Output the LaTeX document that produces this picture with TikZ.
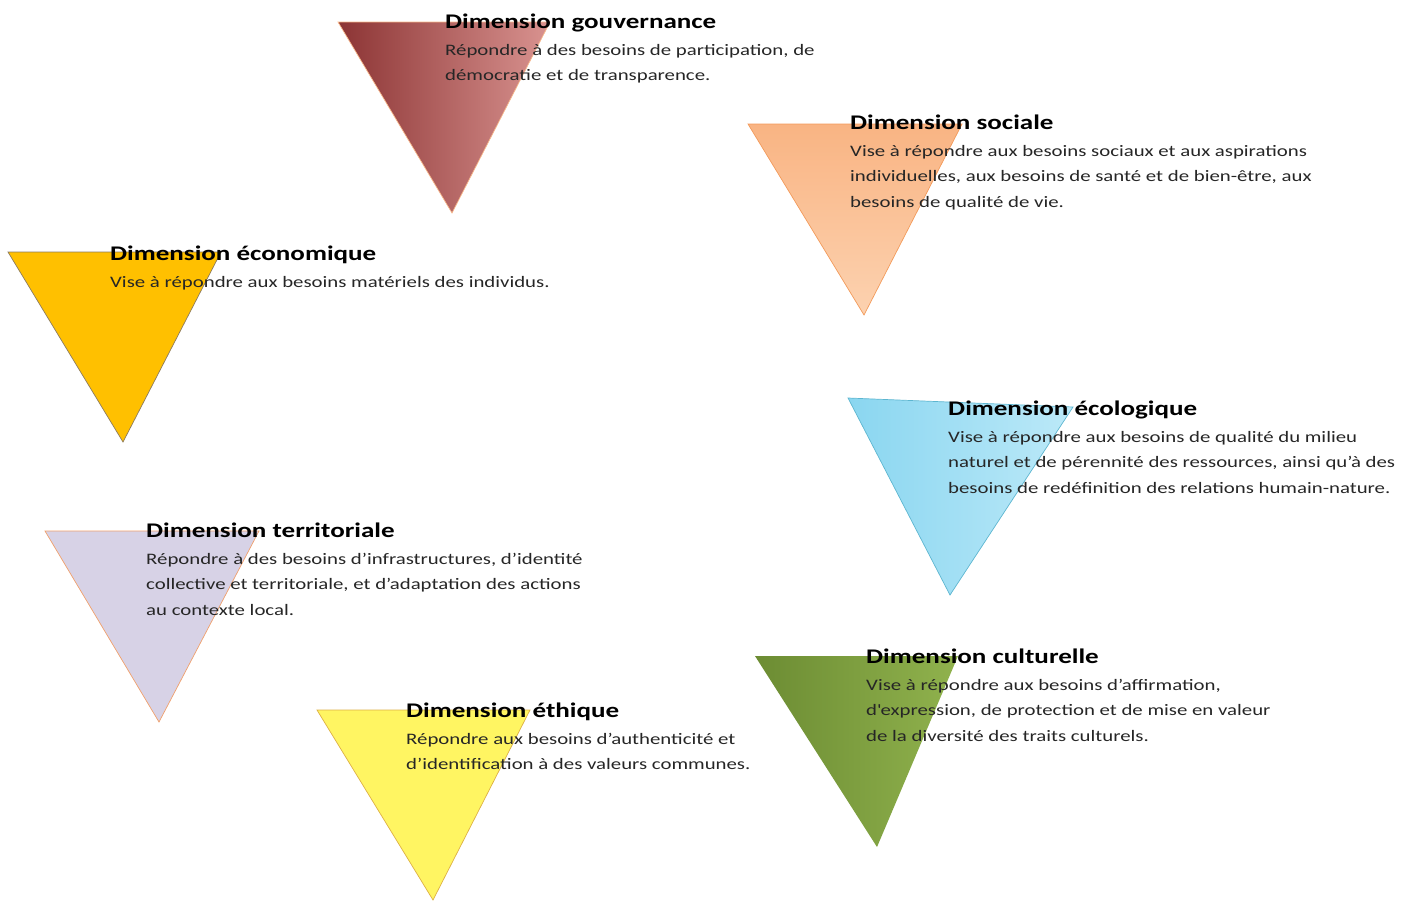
\documentclass[tikz,border=0pt]{standalone}
\usepackage{fontspec}
\setmainfont[FakeStretch=1.3]{Carlito}
\usepackage{xcolor}
\usetikzlibrary{positioning}

\definecolor{gouvdark}{HTML}{8C3434}
\definecolor{gouvlight}{HTML}{D99390}
\definecolor{socdark}{HTML}{F9B483}
\definecolor{soclight}{HTML}{FCD2B0}
\definecolor{socline}{HTML}{F39A5A}
\definecolor{ecofill}{HTML}{FFC000}
\definecolor{ecoline}{HTML}{8C7B5E}
\definecolor{ecodark}{HTML}{8AD6F0}
\definecolor{ecolight}{HTML}{BCE9F8}
\definecolor{ecoloine}{HTML}{5DB6D0}
\definecolor{terfill}{HTML}{D7D2E6}
\definecolor{terline}{HTML}{F0A06C}
\definecolor{ethfill}{HTML}{FFF562}
\definecolor{ethline}{HTML}{DDB044}
\definecolor{culdark}{HTML}{6C8C33}
\definecolor{cullight}{HTML}{90B24D}
\definecolor{descgray}{HTML}{262626}

\begin{document}
\begin{tikzpicture}[
  x=1pt, y=-1pt,
  tri/.style={line width=0.7pt, line join=miter},
  dimtitle/.style={anchor=base west, inner sep=0pt, font=\fontsize{20.8}{25.5}\selectfont\bfseries},
  dimdesc/.style={anchor=north west, align=left, inner sep=0pt, text=descgray,
    font=\fontsize{16}{25.5}\selectfont}
]
  \useasboundingbox (0,0) rectangle (1415,903);

  % triangles
  \path[tri, draw=socline!70, left color=gouvdark, middle color=gouvlight, right color=gouvlight]
    (338,22) -- (550,22) -- (452,213) -- cycle;
  \path[tri, draw=socline, top color=socdark, bottom color=soclight]
    (748,124) -- (962,124) -- (864,315) -- cycle;
  \path[tri, draw=ecoline, fill=ecofill]
    (8,252) -- (221,252) -- (123,442) -- cycle;
  \path[tri, draw=ecoloine, left color=ecodark, right color=ecolight]
    (848,398) -- (1073,407) -- (950,595) -- cycle;
  \path[tri, draw=terline, fill=terfill]
    (45,531) -- (259,531) -- (159,722) -- cycle;
  \path[tri, draw=ethline, fill=ethfill]
    (317,710) -- (530,710) -- (433,900) -- cycle;
  \path[left color=culdark, right color=cullight]
    (755,656) -- (958,656) -- (877,847) -- cycle;

  % titles
  \node[dimtitle] (gouvT)    at (445,28)  {Dimension gouvernance};
  \node[dimtitle] (socialeT) at (850,129) {Dimension sociale};
  \node[dimtitle] (econoT)   at (110,260) {Dimension économique};
  \node[dimtitle] (ecoloT)   at (948,415) {Dimension écologique};
  \node[dimtitle] (terriT)   at (146,537) {Dimension territoriale};
  \node[dimtitle] (ethiqueT) at (406,717) {Dimension éthique};
  \node[dimtitle] (cultuT)   at (866,663) {Dimension culturelle};

  % descriptions
  \node[dimdesc] (gouv) at ([yshift=-9.15pt]gouvT.base west) {\strut
    Répondre à des besoins de participation, de\\
    démocratie et de transparence.};
  \node[dimdesc] (sociale) at ([yshift=-9.15pt]socialeT.base west) {\strut
    Vise à répondre aux besoins sociaux et aux aspirations\\
    individuelles, aux besoins de santé et de bien-être, aux\\
    besoins de qualité de vie.};
  \node[dimdesc] (econo) at ([yshift=-9.15pt]econoT.base west) {\strut
    Vise à répondre aux besoins matériels des individus.};
  \node[dimdesc] (ecolo) at ([yshift=-9.15pt]ecoloT.base west) {\strut
    Vise à répondre aux besoins de qualité du milieu\\
    naturel et de pérennité des ressources, ainsi qu’à des\\
    besoins de redéfinition des relations humain-nature.};
  \node[dimdesc] (terri) at ([yshift=-9.15pt]terriT.base west) {\strut
    Répondre à des besoins d’infrastructures, d’identité\\
    collective et territoriale, et d’adaptation des actions\\
    au contexte local.};
  \node[dimdesc] (ethique) at ([yshift=-9.15pt]ethiqueT.base west) {\strut
    Répondre aux besoins d’authenticité et\\
    d’identification à des valeurs communes.};
  \node[dimdesc] (cultu) at ([yshift=-9.15pt]cultuT.base west) {\strut
    Vise à répondre aux besoins d’affirmation,\\
    d\textquotesingle expression, de protection et de mise en valeur\\
    de la diversité des traits culturels.};
\end{tikzpicture}
\end{document}
